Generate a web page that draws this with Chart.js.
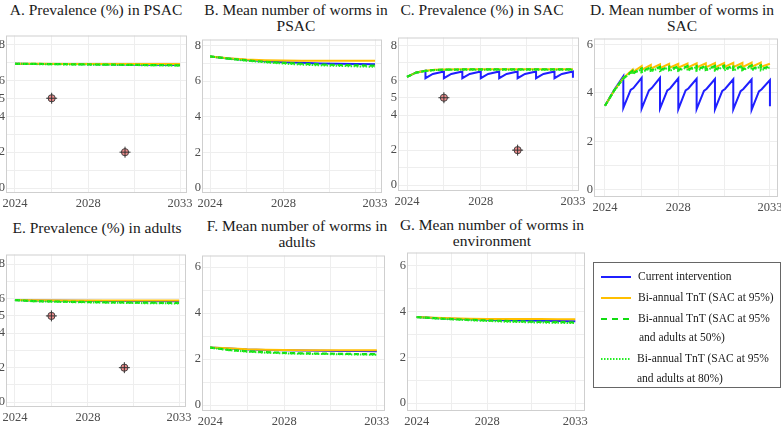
<!DOCTYPE html>
<html>
<head>
<meta charset="utf-8">
<script src="https://cdn.jsdelivr.net/npm/chart.js@4"></script>
<style>
  body { margin: 0; background: #fff; }
  #wrap { position: relative; width: 781px; height: 428px; overflow: hidden; font-family: "Liberation Serif", "Times New Roman", Tinos, "DejaVu Serif", serif; }
  canvas { position: absolute; }
  .ttl { position: absolute; width: 200px; text-align: center; font-size: 15.5px; line-height: 16px; color: #1a1a1a; }
  #legend { position: absolute; left: 593px; top: 262px; width: 186px; height: 124px; border: 1px solid #666; font-size: 11.5px; color: #1a1a1a; }
  .item { position: absolute; white-space: nowrap; line-height: 14px; }
  .item svg { position: absolute; left: 7px; top: 6px; }
</style>
</head>
<body>
<div id="wrap">
  <div class="ttl" style="left:-4px;top:2px">A. Prevalence (%) in PSAC</div>
  <div class="ttl" style="left:196px;top:2px">B. Mean number of worms in<br>PSAC</div>
  <div class="ttl" style="left:382px;top:2px">C. Prevalence (%) in SAC</div>
  <div class="ttl" style="left:582px;top:2px">D. Mean number of worms in<br>SAC</div>
  <div class="ttl" style="left:-3px;top:220px">E. Prevalence (%) in adults</div>
  <div class="ttl" style="left:197px;top:218px">F. Mean number of worms in<br>adults</div>
  <div class="ttl" style="left:392px;top:217px">G. Mean number of worms in<br>environment</div>

  <canvas id="pA"></canvas>
  <canvas id="pB"></canvas>
  <canvas id="pC"></canvas>
  <canvas id="pD"></canvas>
  <canvas id="pE"></canvas>
  <canvas id="pF"></canvas>
  <canvas id="pG"></canvas>

  <div id="legend">
    <div class="item" style="left:0;top:6px"><svg width="30" height="4"><line x1="0" y1="2" x2="30" y2="2" stroke="#1f1fff" stroke-width="2"/></svg><span style="position:absolute;left:44px">Current intervention</span></div>
    <div class="item" style="left:0;top:27px"><svg width="30" height="4"><line x1="0" y1="2" x2="30" y2="2" stroke="#ffbf00" stroke-width="2"/></svg><span style="position:absolute;left:44px">Bi-annual TnT (SAC at 95%)</span></div>
    <div class="item" style="left:0;top:48px"><svg width="30" height="4"><line x1="0" y1="2" x2="30" y2="2" stroke="#11dd11" stroke-width="2.2" stroke-dasharray="6,5"/></svg><span style="position:absolute;left:44px">Bi-annual TnT (SAC at 95%</span></div>
    <div class="item" style="left:45px;top:67px">and adults at 50%)</div>
    <div class="item" style="left:0;top:88px"><svg width="30" height="4"><line x1="0" y1="2" x2="30" y2="2" stroke="#22ee22" stroke-width="2" stroke-dasharray="1.5,1.5"/></svg><span style="position:absolute;left:43px">Bi-annual TnT (SAC at 95%</span></div>
    <div class="item" style="left:43px;top:108px">and adults at 80%)</div>
  </div>
</div>

<script>
// ---- data ----
var years = [2024, 2025, 2026, 2027, 2028, 2029, 2030, 2031, 2032, 2033];
var xTickLabels = [2024, 2028, 2033];
var xGridVals = [2024, 2026, 2028, 2030.5, 2033];

// observed prevalence points (A, C, E)
var obsYears = [2026, 2030];
var obsValues = [5, 2];

// A. prevalence PSAC
var aYears = [2024, 2025, 2027, 2029, 2031, 2033];
var aCurrent = [6.92, 6.91, 6.9, 6.89, 6.87, 6.85];
var aTnt = [6.92, 6.92, 6.91, 6.9, 6.9, 6.9];
var aTnt50 = [6.92, 6.91, 6.89, 6.87, 6.85, 6.83];
var aTnt80 = [6.92, 6.9, 6.88, 6.86, 6.84, 6.82];

// B. worms PSAC
var bCurrent = [7.38, 7.27, 7.18, 7.11, 7.06, 7.02, 6.99, 6.97, 6.95, 6.94];
var bTnt = [7.38, 7.28, 7.21, 7.17, 7.15, 7.14, 7.14, 7.14, 7.14, 7.14];
var bTnt50 = [7.38, 7.26, 7.16, 7.08, 7.02, 6.97, 6.93, 6.9, 6.88, 6.86];
var bTnt80 = [7.38, 7.25, 7.14, 7.05, 6.98, 6.92, 6.88, 6.85, 6.82, 6.8];

// C. prevalence SAC
var cTntTimes = [2024, 2024.5, 2025, 2025.5, 2026, 2027, 2028, 2029, 2030, 2031, 2032, 2033];
var cTnt = [6.2, 6.45, 6.55, 6.6, 6.62, 6.63, 6.63, 6.63, 6.63, 6.63, 6.63, 6.63];
var cTnt50 = [6.2, 6.44, 6.54, 6.59, 6.61, 6.62, 6.62, 6.62, 6.62, 6.62, 6.62, 6.62];
var cTnt80 = [6.2, 6.44, 6.53, 6.58, 6.6, 6.61, 6.61, 6.61, 6.61, 6.61, 6.61, 6.61];
var cCurTimes = [2024, 2024.5, 2025, 2025, 2025.4, 2026, 2026, 2026.4, 2027, 2027, 2027.4, 2028, 2028, 2028.4,
                 2029, 2029, 2029.4, 2030, 2030, 2030.4, 2031, 2031, 2031.4, 2032, 2032, 2032.4, 2033, 2033];
var cCurrent = [6.2, 6.45, 6.55, 6.12, 6.36, 6.5, 6.12, 6.36, 6.5, 6.12, 6.36, 6.5, 6.12, 6.36,
                6.5, 6.12, 6.36, 6.5, 6.12, 6.36, 6.5, 6.12, 6.36, 6.5, 6.12, 6.36, 6.5, 6.15];

// D. worms SAC
var dTntTimes = [2024, 2024.5, 2025, 2025.5, 2025.5, 2026, 2026, 2026.5, 2026.5, 2027, 2027, 2027.5, 2027.5,
                 2028, 2028, 2028.5, 2028.5, 2029, 2029, 2029.5, 2029.5, 2030, 2030, 2030.5, 2030.5,
                 2031, 2031, 2031.5, 2031.5, 2032, 2032, 2032.5, 2032.5, 2033];
var dTnt = [3.47, 4.1, 4.62, 4.95, 4.85, 5.1, 4.95, 5.15, 5.0, 5.18, 5.02, 5.2, 5.03,
            5.2, 5.04, 5.21, 5.04, 5.22, 5.05, 5.22, 5.05, 5.23, 5.05, 5.23, 5.06,
            5.24, 5.06, 5.24, 5.06, 5.25, 5.07, 5.25, 5.07, 5.2];
var dTnt50 = [3.47, 4.1, 4.6, 4.9, 4.8, 5.0, 4.88, 5.05, 4.92, 5.07, 4.93, 5.08, 4.94,
              5.09, 4.94, 5.1, 4.95, 5.1, 4.95, 5.11, 4.95, 5.11, 4.96, 5.12, 4.96,
              5.12, 4.96, 5.12, 4.96, 5.13, 4.97, 5.13, 4.97, 5.1];
var dTnt80 = [3.47, 4.08, 4.58, 4.88, 4.78, 4.98, 4.85, 5.02, 4.88, 5.04, 4.9, 5.05, 4.9,
              5.06, 4.91, 5.06, 4.91, 5.07, 4.91, 5.07, 4.92, 5.08, 4.92, 5.08, 4.92,
              5.08, 4.92, 5.09, 4.93, 5.09, 4.93, 5.09, 4.93, 5.05];
var dCurTimes = [2024, 2024.5, 2025, 2025, 2025.4, 2025.55, 2026, 2026, 2026.4, 2026.55, 2027, 2027, 2027.4, 2027.55,
                 2028, 2028, 2028.4, 2028.55, 2029, 2029, 2029.4, 2029.55, 2030, 2030, 2030.4, 2030.55,
                 2031, 2031, 2031.4, 2031.55, 2032, 2032, 2032.4, 2032.55, 2033, 2033];
var dCurrent = [3.47, 4.12, 4.68, 3.38, 4.12, 4.2, 4.62, 3.35, 4.1, 4.2, 4.62, 3.35, 4.1, 4.18,
                4.6, 3.33, 4.1, 4.18, 4.58, 3.33, 4.08, 4.17, 4.57, 3.32, 4.08, 4.16,
                4.56, 3.32, 4.07, 4.16, 4.55, 3.3, 4.06, 4.15, 4.53, 3.45];

// E. prevalence adults
var eYears = [2024, 2025, 2027, 2029, 2031, 2033];
var eCurrent = [5.92, 5.9, 5.88, 5.87, 5.86, 5.85];
var eTnt = [5.92, 5.91, 5.9, 5.89, 5.89, 5.89];
var eTnt50 = [5.92, 5.86, 5.82, 5.79, 5.77, 5.75];
var eTnt80 = [5.92, 5.85, 5.8, 5.77, 5.74, 5.72];

// F. worms adults
var fCurrent = [2.5, 2.46, 2.42, 2.4, 2.38, 2.37, 2.36, 2.35, 2.35, 2.34];
var fTnt = [2.5, 2.47, 2.43, 2.41, 2.4, 2.39, 2.39, 2.38, 2.38, 2.38];
var fTnt50 = [2.5, 2.4, 2.34, 2.3, 2.27, 2.25, 2.24, 2.23, 2.22, 2.22];
var fTnt80 = [2.5, 2.39, 2.32, 2.28, 2.25, 2.23, 2.22, 2.21, 2.2, 2.19];

// G. worms environment
var gCurrent = [3.75, 3.71, 3.68, 3.65, 3.63, 3.61, 3.6, 3.59, 3.58, 3.57];
var gTnt = [3.75, 3.72, 3.7, 3.68, 3.67, 3.66, 3.66, 3.66, 3.65, 3.65];
var gTnt50 = [3.75, 3.7, 3.66, 3.63, 3.6, 3.58, 3.56, 3.54, 3.53, 3.52];
var gTnt80 = [3.75, 3.69, 3.65, 3.61, 3.58, 3.55, 3.53, 3.51, 3.5, 3.49];

// ---- drawing ----
var tickFont = { family: '"Liberation Serif", "Times New Roman", Tinos, "DejaVu Serif", serif', size: 12.5 };
var tickColor = '#4d4d4d';
var gridColor = '#eeeeee';

var styles = {
    cur:   { borderColor: '#1f1fff', borderWidth: 2, order: 4 },
    tnt:   { borderColor: '#ffbf00', borderWidth: 2, order: 3 },
    tnt50: { borderColor: '#11dd11', borderWidth: 2.2, borderDash: [5, 3], order: 2 },
    tnt80: { borderColor: '#22ee22', borderWidth: 2, borderDash: [1.5, 1.5], order: 1 }
};

function line(times, vals, st) {
    var ds = {
        data: times.map(function(t, i) { return { x: t, y: vals[i] }; }),
        pointRadius: 0,
        tension: 0,
        fill: false
    };
    for (var k in st) ds[k] = st[k];
    return ds;
}

function obsSets() {
    var pts = obsYears.map(function(t, i) { return { x: t, y: obsValues[i] }; });
    return [
        { data: pts, showLine: false, pointStyle: 'circle', pointRadius: 3.6,
          pointBackgroundColor: '#f08c8c', pointBorderColor: '#444', pointBorderWidth: 1, order: 0 },
        { data: pts, showLine: false, pointStyle: 'cross', pointRadius: 5.5,
          pointBorderColor: '#333', pointBorderWidth: 1, order: -1 }
    ];
}

var framePlugin = {
    id: 'frame',
    beforeDatasetsDraw: function(chart) {
        var a = chart.chartArea, c = chart.ctx;
        c.save();
        c.strokeStyle = '#cfcfcf';
        c.lineWidth = 1;
        c.strokeRect(a.left + 0.5, a.top + 0.5, a.right - a.left - 1, a.bottom - a.top - 1);
        c.restore();
    }
};

function range(a, b) { var r = []; for (var v = a; v <= b; v++) r.push(v); return r; }

// box = plot rect [left, top, right, bottom] in page pixels
function panel(id, box, xr, yr, yLabels, sets) {
    var cv = document.getElementById(id);
    var W = box[2] - box[0] + 20, H = box[3] - box[1] + 24;
    cv.style.left = (box[0] - 10) + 'px';
    cv.style.top = (box[1] - 6) + 'px';
    cv.style.width = W + 'px';
    cv.style.height = H + 'px';
    cv.width = W;
    cv.height = H;
    var yGrid = range(0, Math.floor(yr[1]));

    new Chart(cv, {
        type: 'line',
        data: { datasets: sets },
        options: {
            responsive: false,
            animation: false,
            layout: { autoPadding: false, padding: { left: 2, top: 6, right: 10, bottom: 2 } },
            plugins: { legend: { display: false }, tooltip: { enabled: false }, title: { display: false } },
            scales: {
                x: {
                    type: 'linear', min: xr[0], max: xr[1],
                    afterFit: function(s) { s.height = 16; },
                    afterBuildTicks: function(s) { s.ticks = xGridVals.map(function(v) { return { value: v }; }); },
                    ticks: {
                        autoSkip: false, maxRotation: 0, padding: 3, font: tickFont, color: tickColor,
                        callback: function(v) { return xTickLabels.indexOf(v) >= 0 ? String(v) : ''; }
                    },
                    grid: { color: gridColor, drawTicks: false },
                    border: { display: false }
                },
                y: {
                    type: 'linear', min: yr[0], max: yr[1],
                    afterFit: function(s) { s.width = 8; },
                    afterBuildTicks: function(s) { s.ticks = yGrid.map(function(v) { return { value: v }; }); },
                    ticks: {
                        autoSkip: false, padding: 1, font: tickFont, color: tickColor,
                        callback: function(v) { return yLabels.indexOf(v) >= 0 ? String(v) : ''; }
                    },
                    grid: { color: gridColor, drawTicks: false },
                    border: { display: false }
                }
            }
        },
        plugins: [framePlugin]
    });
}

var prevLabels = [0, 2, 4, 5, 6, 8];
var wormLabels = [0, 2, 4, 6, 8];

panel('pA', [6, 33, 187, 193], [2023.51, 2033.38], [-0.27, 8.49], prevLabels,
    [line(aYears, aCurrent, styles.cur), line(aYears, aTnt, styles.tnt),
     line(aYears, aTnt50, styles.tnt50), line(aYears, aTnt80, styles.tnt80)].concat(obsSets()));

panel('pB', [202, 37, 382, 193], [2023.56, 2033.38], [-0.28, 8.33], wormLabels,
    [line(years, bCurrent, styles.cur), line(years, bTnt, styles.tnt),
     line(years, bTnt50, styles.tnt50), line(years, bTnt80, styles.tnt80)]);

panel('pC', [398, 35, 579, 191], [2023.51, 2033.33], [-0.34, 8.45], prevLabels,
    [line(cCurTimes, cCurrent, styles.cur), line(cTntTimes, cTnt, styles.tnt),
     line(cTntTimes, cTnt50, styles.tnt50), line(cTntTimes, cTnt80, styles.tnt80)].concat(obsSets()));

panel('pD', [594, 36, 778, 197], [2023.4, 2033.44], [-0.29, 6.24], wormLabels,
    [line(dCurTimes, dCurrent, styles.cur), line(dTntTimes, dTnt, styles.tnt),
     line(dTntTimes, dTnt50, styles.tnt50), line(dTntTimes, dTnt80, styles.tnt80)]);

panel('pE', [6, 252, 186, 407], [2023.51, 2033.38], [-0.28, 8.56], prevLabels,
    [line(eYears, eCurrent, styles.cur), line(eYears, eTnt, styles.tnt),
     line(eYears, eTnt50, styles.tnt50), line(eYears, eTnt80, styles.tnt80)].concat(obsSets()));

panel('pF', [202, 253, 385, 411], [2023.56, 2033.44], [-0.26, 6.51], wormLabels,
    [line(years, fCurrent, styles.cur), line(years, fTnt, styles.tnt),
     line(years, fTnt50, styles.tnt50), line(years, fTnt80, styles.tnt80)]);

panel('pG', [407, 250, 585, 411], [2023.45, 2033.55], [-0.34, 6.56], wormLabels,
    [line(years, gCurrent, styles.cur), line(years, gTnt, styles.tnt),
     line(years, gTnt50, styles.tnt50), line(years, gTnt80, styles.tnt80)]);
</script>
</body>
</html>
